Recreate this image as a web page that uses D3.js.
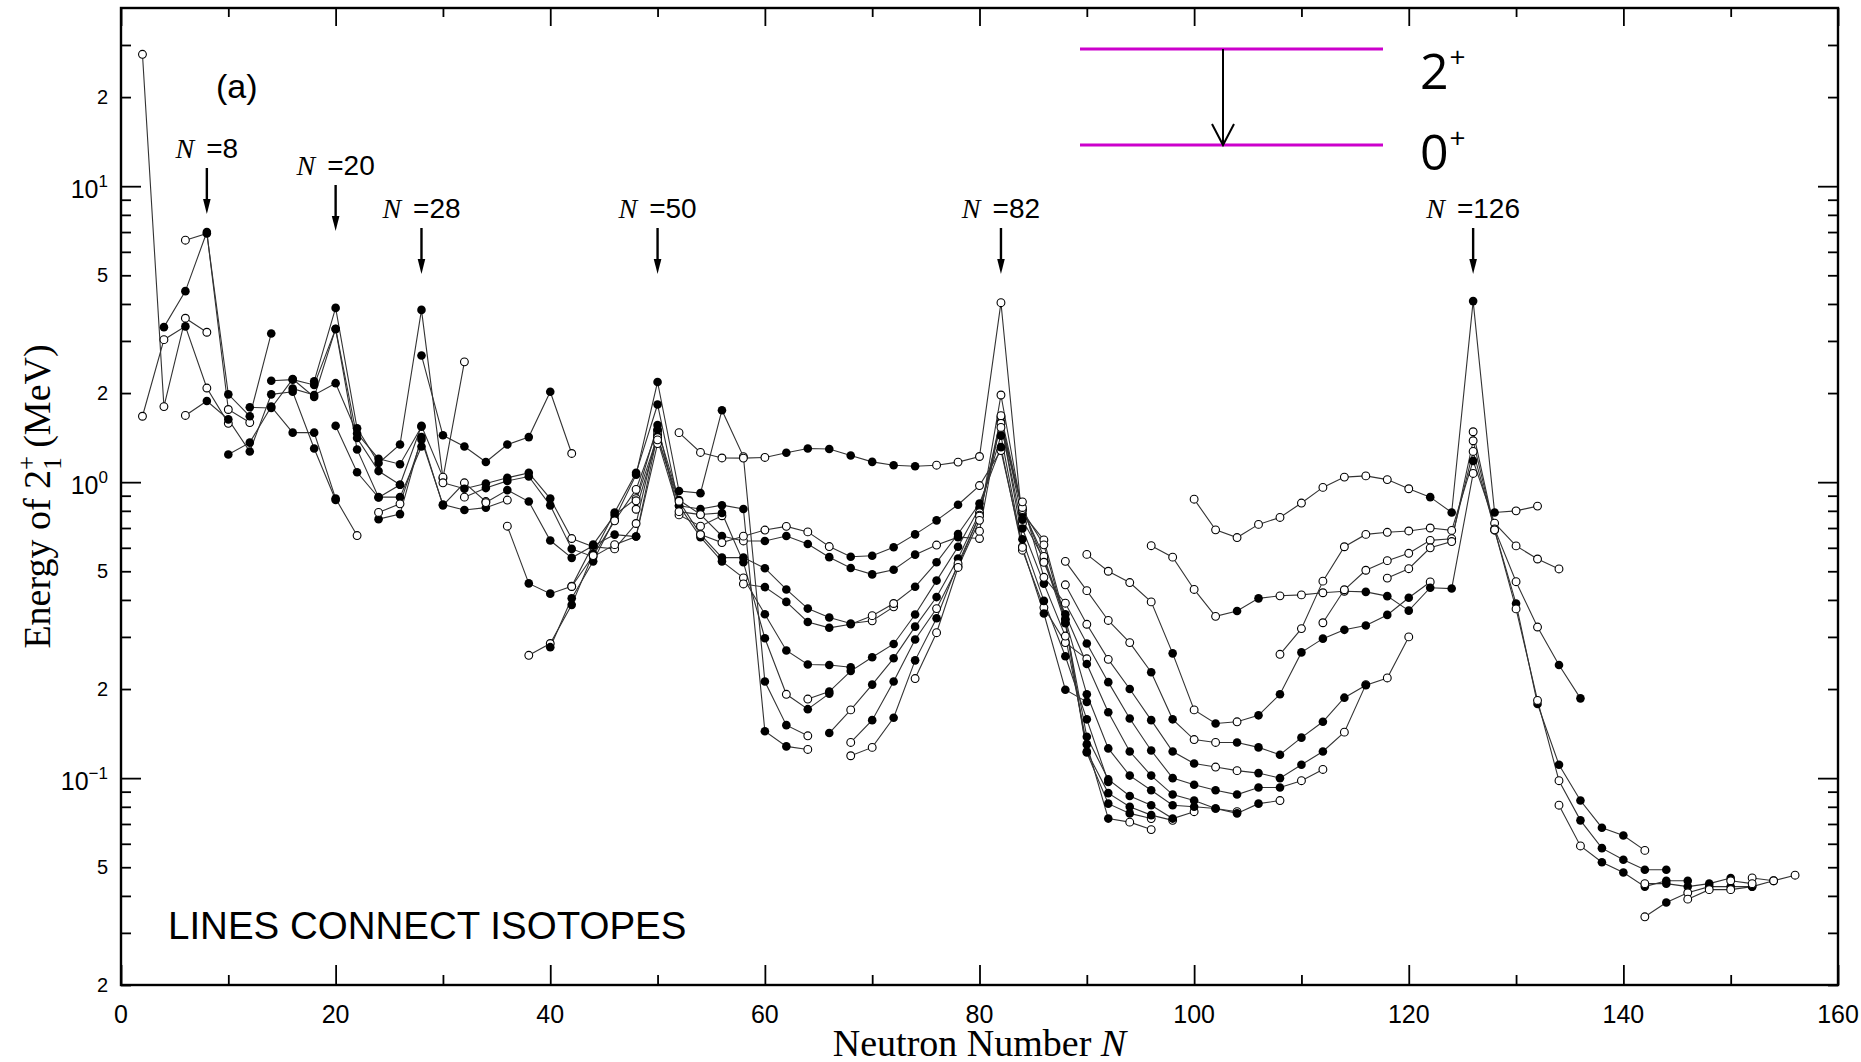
<!DOCTYPE html>
<html>
<head>
<meta charset="utf-8">
<script src="https://cdn.jsdelivr.net/npm/d3@7"></script>
<style>
  body { margin: 0; background: #fff; }
</style>
</head>
<body>
<div id="chart"></div>
<script>
// each point: [neutron number N, E(2+1) in MeV, filled (1) / open (0)]
const He = [[2,27.9,0],[4,1.8,0],[6,3.58,0],[8,3.21,0]];
const Be = [[2,1.67,0],[4,3.03,0],[6,3.36,1],[8,2.08,0],[10,1.58,0]];
const C  = [[4,3.34,1],[6,4.42,1],[8,7.0,1],[10,1.76,0],[12,1.59,0]];
const O  = [[6,6.57,0],[8,6.92,1],[10,1.98,1],[12,1.67,1],[14,3.18,1]];
const Ne = [[6,1.68,0],[8,1.88,1],[10,1.63,1],[12,1.27,1],[14,1.98,1],[16,2.02,1],[18,1.30,1],[20,0.87,1]];
const Mg = [[10,1.24,1],[12,1.36,1],[14,1.80,1],[16,1.47,1],[18,1.47,1],[20,0.88,1],[22,0.66,0]];
const Si = [[12,1.79,1],[14,1.78,1],[16,2.23,1],[18,1.94,1],[20,3.30,1],[22,1.41,1],[24,1.09,1],[26,0.98,1]];
const S  = [[14,2.20,1],[16,2.22,1],[18,2.13,1],[20,3.29,1],[22,1.29,1],[24,0.89,1],[26,0.89,1],[28,1.32,1]];
const Ar = [[16,2.07,1],[18,1.97,1],[20,2.16,1],[22,1.46,1],[24,1.20,1],[26,1.15,1],[28,1.54,1]];
const Ca = [[18,2.19,1],[20,3.88,1],[22,1.52,1],[24,1.16,1],[26,1.34,1],[28,3.82,1],[30,1.03,0],[32,2.55,0]];
const Ti = [[20,1.55,1],[22,1.08,1],[24,0.887,1],[26,0.98,1],[28,1.55,1],[30,1.04,0]];
const Cr = [[24,0.75,1],[26,0.78,1],[28,1.42,1],[30,0.835,1],[32,0.995,0],[34,0.86,0]];
const Fe = [[24,0.79,0],[26,0.845,0],[28,1.39,1],[30,0.84,1],[32,0.805,1],[34,0.82,1],[36,0.87,0]];
const Ni = [[28,2.68,1],[30,1.44,1],[32,1.32,1],[34,1.17,1],[36,1.34,1],[38,1.42,1],[40,2.02,1],[42,1.25,0]];
const Zn = [[30,0.995,0],[32,0.95,1],[34,0.99,1],[36,1.035,1],[38,1.075,1],[40,0.88,1],[42,0.645,0],[44,0.605,0],[46,0.595,0],[48,0.725,0],[50,1.49,0]];
const Ge = [[32,0.89,0],[34,0.955,1],[36,1.01,1],[38,1.045,1],[40,0.835,1],[42,0.595,1],[44,0.56,1],[46,0.615,0],[48,0.655,1],[50,1.35,0]];
const Se = [[34,0.853,0],[36,0.94,1],[38,0.86,1],[40,0.635,1],[42,0.555,1],[44,0.61,1],[46,0.665,1],[48,0.655,1],[50,1.45,0]];
const Kr = [[36,0.71,0],[38,0.455,1],[40,0.42,1],[42,0.445,0],[44,0.615,1],[46,0.775,1],[48,0.88,0],[50,1.56,1],[52,0.775,0],[54,0.71,0],[56,0.77,0]];
const Sr = [[38,0.26,0],[40,0.285,0],[42,0.385,1],[44,0.573,1],[46,0.79,1],[48,1.075,1],[50,1.83,1],[52,0.832,1],[54,0.812,1],[56,0.836,1],[58,0.812,1],[60,0.144,1],[62,0.128,1],[64,0.125,0]];
const Zr = [[40,0.277,1],[42,0.405,1],[44,0.54,1],[46,0.752,1],[48,1.06,1],[50,2.18,1],[52,0.933,1],[54,0.918,1],[56,1.75,1],[58,1.22,0],[60,0.212,1],[62,0.151,1],[64,0.139,0]];
const Mo = [[42,0.444,0],[44,0.565,0],[46,0.74,0],[48,0.945,0],[50,1.51,1],[52,0.87,1],[54,0.778,1],[56,0.787,1],[58,0.536,1],[60,0.297,1],[62,0.192,0],[64,0.171,1],[66,0.193,1]];
const Ru = [[48,0.865,0],[50,1.43,1],[52,0.832,1],[54,0.652,1],[56,0.54,1],[58,0.475,0],[60,0.358,1],[62,0.27,1],[64,0.242,1],[66,0.241,1],[68,0.237,1]];
const Pd = [[48,0.81,0],[50,1.415,0],[52,0.862,0],[54,0.666,0],[56,0.556,1],[58,0.556,1],[60,0.512,1],[62,0.434,1],[64,0.374,1],[66,0.349,1],[68,0.333,1],[70,0.34,0],[72,0.379,0]];
const Cd = [[50,1.39,0],[52,0.795,0],[54,0.777,0],[56,0.658,1],[58,0.633,0],[60,0.633,1],[62,0.658,1],[64,0.618,1],[66,0.558,1],[68,0.513,1],[70,0.488,1],[72,0.506,1],[74,0.569,1],[76,0.613,0],[78,0.652,1],[80,0.645,0]];
const Sn = [[52,1.47,0],[54,1.26,0],[56,1.207,0],[58,1.206,0],[60,1.212,0],[62,1.257,1],[64,1.30,1],[66,1.294,1],[68,1.23,1],[70,1.171,1],[72,1.141,1],[74,1.132,1],[76,1.141,0],[78,1.169,0],[80,1.221,0],[82,4.04,0],[84,0.726,0]];
const Te = [[54,0.665,0],[56,0.625,0],[58,0.657,0],[60,0.689,0],[62,0.709,0],[64,0.679,0],[66,0.606,0],[68,0.56,1],[70,0.564,1],[72,0.603,1],[74,0.666,1],[76,0.743,1],[78,0.839,1],[80,0.974,0],[82,1.279,0],[84,0.606,0]];
const Xe = [[58,0.453,0],[60,0.442,1],[62,0.394,1],[64,0.337,1],[66,0.322,1],[68,0.331,1],[70,0.354,0],[72,0.389,0],[74,0.443,1],[76,0.536,1],[78,0.668,1],[80,0.847,1],[82,1.313,1],[84,0.589,0],[86,0.377,0],[88,0.287,0],[90,0.253,0]];
const Ba = [[64,0.185,0],[66,0.196,1],[68,0.23,1],[70,0.256,1],[72,0.284,1],[74,0.357,1],[76,0.465,1],[78,0.605,1],[80,0.819,1],[82,1.436,1],[84,0.602,0],[86,0.36,1],[88,0.199,1],[90,0.181,1]];
const Ce = [[66,0.142,1],[68,0.17,0],[70,0.207,1],[72,0.254,1],[74,0.325,1],[76,0.409,1],[78,0.552,1],[80,0.789,0],[82,1.596,1],[84,0.641,1],[86,0.397,1],[88,0.258,1],[90,0.158,1],[92,0.097,1]];
const Nd = [[68,0.132,0],[70,0.157,1],[72,0.212,1],[74,0.294,1],[76,0.374,0],[78,0.52,0],[80,0.774,0],[82,1.576,1],[84,0.697,1],[86,0.454,1],[88,0.302,0],[90,0.13,1],[92,0.073,1],[94,0.071,0],[96,0.067,0]];
const Sm = [[68,0.119,0],[70,0.127,0],[72,0.16,1],[74,0.25,1],[76,0.347,1],[78,0.531,0],[80,0.768,0],[82,1.66,1],[84,0.747,1],[86,0.55,1],[88,0.334,1],[90,0.122,1],[92,0.082,1],[94,0.076,1],[96,0.073,0]];
const Gd = [[74,0.217,0],[76,0.31,0],[78,0.515,0],[80,0.743,0],[82,1.97,0],[84,0.784,1],[86,0.638,0],[88,0.344,1],[90,0.123,1],[92,0.089,1],[94,0.080,1],[96,0.075,1],[98,0.072,0]];
const Dy = [[80,0.683,0],[82,1.678,0],[84,0.804,0],[86,0.614,0],[88,0.335,1],[90,0.138,1],[92,0.099,1],[94,0.087,1],[96,0.081,1],[98,0.073,1],[100,0.077,0]];
const Er = [[82,1.579,0],[84,0.808,0],[86,0.561,0],[88,0.344,1],[90,0.192,1],[92,0.126,1],[94,0.102,1],[96,0.091,1],[98,0.081,1],[100,0.080,1],[102,0.079,1],[104,0.077,0]];
const Yb = [[82,1.531,0],[84,0.821,0],[86,0.536,0],[88,0.358,1],[90,0.243,1],[92,0.167,1],[94,0.123,1],[96,0.102,1],[98,0.088,1],[100,0.084,1],[102,0.079,1],[104,0.076,1],[106,0.082,1],[108,0.084,0]];
const Hf = [[84,0.858,0],[86,0.477,0],[88,0.39,0],[90,0.285,1],[92,0.211,1],[94,0.159,1],[96,0.124,1],[98,0.1,1],[100,0.095,1],[102,0.091,1],[104,0.088,1],[106,0.093,1],[108,0.093,1],[110,0.098,0],[112,0.107,0]];
const W  = [[88,0.45,0],[90,0.331,0],[92,0.252,0],[94,0.2,1],[96,0.157,1],[98,0.123,1],[100,0.112,1],[102,0.109,0],[104,0.106,0],[106,0.104,1],[108,0.1,1],[110,0.111,1],[112,0.123,1],[114,0.143,0],[116,0.207,0]];
const Os = [[88,0.54,0],[90,0.43,0],[92,0.341,0],[94,0.287,0],[96,0.228,1],[98,0.158,1],[100,0.135,0],[102,0.132,0],[104,0.132,1],[106,0.127,1],[108,0.12,1],[110,0.137,1],[112,0.155,1],[114,0.187,1],[116,0.206,1],[118,0.218,0],[120,0.30,0]];
const Pt = [[90,0.57,0],[92,0.50,0],[94,0.458,0],[96,0.394,0],[98,0.264,1],[100,0.17,0],[102,0.153,1],[104,0.155,0],[106,0.163,1],[108,0.192,1],[110,0.266,1],[112,0.296,1],[114,0.317,1],[116,0.328,1],[118,0.356,1],[120,0.407,1],[122,0.46,0]];
const Hg = [[96,0.61,0],[98,0.558,0],[100,0.434,0],[102,0.352,0],[104,0.367,1],[106,0.405,1],[108,0.413,0],[110,0.416,0],[112,0.423,0],[114,0.428,0],[116,0.426,1],[118,0.412,1],[120,0.368,1],[122,0.44,1],[124,0.437,1],[126,1.07,0]];
const Pb = [[100,0.876,0],[102,0.69,0],[104,0.65,0],[106,0.72,0],[108,0.76,0],[110,0.85,0],[112,0.96,0],[114,1.04,0],[116,1.05,0],[118,1.02,0],[120,0.95,0],[122,0.89,1],[124,0.79,1],[126,4.09,1],[128,0.79,1],[130,0.80,0],[132,0.83,0]];
const Po = [[108,0.262,0],[110,0.32,0],[112,0.463,0],[114,0.605,0],[116,0.666,0],[118,0.677,0],[120,0.684,0],[122,0.70,0],[124,0.687,0],[126,1.18,1],[128,0.727,0],[130,0.609,0],[132,0.55,0],[134,0.509,0]];
const Rn = [[112,0.335,0],[114,0.433,0],[116,0.504,0],[118,0.543,0],[120,0.575,0],[122,0.636,0],[124,0.644,0],[126,1.27,0],[128,0.695,0],[130,0.461,0],[132,0.324,0],[134,0.241,1],[136,0.186,1]];
const Ra = [[118,0.474,0],[120,0.51,0],[122,0.60,0],[124,0.63,0],[126,1.38,0],[128,0.688,0],[130,0.389,1],[132,0.178,1],[134,0.111,1],[136,0.084,1],[138,0.068,1],[140,0.064,1],[142,0.057,0]];
const Th = [[126,1.48,0],[128,0.69,0],[130,0.373,0],[132,0.183,0],[134,0.098,0],[136,0.072,1],[138,0.058,1],[140,0.053,1],[142,0.049,1],[144,0.049,1]];
const U  = [[134,0.081,0],[136,0.059,0],[138,0.052,1],[140,0.048,1],[142,0.043,1],[144,0.045,1],[146,0.045,1]];
const Pu = [[142,0.044,0],[144,0.044,1],[146,0.043,1],[148,0.044,1],[150,0.046,1]];
const Cm = [[142,0.034,0],[144,0.038,1],[146,0.041,0],[148,0.043,1],[150,0.043,1],[152,0.043,1]];
const Cf = [[146,0.039,0],[148,0.042,0],[150,0.042,0],[152,0.043,1],[154,0.045,0]];
const Fm = [[152,0.046,0],[154,0.045,0],[156,0.047,0]];
const No = [[150,0.045,0],[152,0.044,0]];

const chains = [He, Be, C, O, Ne, Mg, Si, S, Ar, Ca, Ti, Cr, Fe, Ni, Zn, Ge, Se, Kr, Sr, Zr,
  Mo, Ru, Pd, Cd, Sn, Te, Xe, Ba, Ce, Nd, Sm, Gd, Dy, Er, Yb, Hf, W, Os, Pt, Hg, Pb, Po,
  Rn, Ra, Th, U, Pu, Cm, Cf, Fm, No];

// magic numbers marked with arrows
const magic = [8, 20, 28, 50, 82, 126];

// tick values and labels
const xMajor = [0, 20, 40, 60, 80, 100, 120, 140, 160];
const xMinor = [10, 30, 50, 70, 90, 110, 130, 150];
const yMajor = [0.1, 1, 10];
const yMinor = [0.02, 0.03, 0.04, 0.05, 0.06, 0.07, 0.08, 0.09,
  0.2, 0.3, 0.4, 0.5, 0.6, 0.7, 0.8, 0.9, 2, 3, 4, 5, 6, 7, 8, 9, 20, 30];
const yPlainLabels = [[0.02, "2"], [0.05, "5"], [0.2, "2"], [0.5, "5"], [2, "2"], [5, "5"], [20, "2"]];
const yDecadeLabels = [[0.1, "\u22121"], [1, "0"], [10, "1"]];

const width = 1861, height = 1062;
const margin = { left: 121, right: 1838, top: 8, bottom: 985 };

const svg = d3.select("#chart").append("svg")
  .attr("width", width)
  .attr("height", height)
  .attr("viewBox", "0 0 " + width + " " + height);

const x = d3.scaleLinear().domain([0, 160]).range([margin.left, margin.right]);
const y = d3.scaleLog().domain([0.02, 40]).range([margin.bottom, margin.top]);

const sans = "'Liberation Sans', Arial, Helvetica, sans-serif";
const serif = "'Liberation Serif', 'Times New Roman', serif";

// isotope lines
const line = d3.line().x(d => x(d[0])).y(d => y(d[1]));
svg.append("g")
  .selectAll("path")
  .data(chains)
  .join("path")
  .attr("d", line)
  .attr("fill", "none")
  .attr("stroke", "#333")
  .attr("stroke-width", 1.1);

// markers
svg.append("g")
  .selectAll("circle")
  .data(chains.flat())
  .join("circle")
  .attr("cx", d => x(d[0]))
  .attr("cy", d => y(d[1]))
  .attr("r", d => d[2] ? 4.3 : 3.9)
  .attr("fill", d => d[2] ? "#000" : "#fff")
  .attr("stroke", "#000")
  .attr("stroke-width", d => d[2] ? 0 : 1.1);

// ticks on all four sides, pointing inward
function ticks(axis, vals, size, transform) {
  const g = svg.append("g")
    .attr("transform", transform)
    .call(axis.tickValues(vals).tickSize(size).tickFormat(""));
  g.select(".domain").remove();
  g.selectAll("line").attr("stroke", "#000").attr("stroke-width", 1.8);
}
ticks(d3.axisBottom(x), xMajor, -20, "translate(0," + margin.bottom + ")");
ticks(d3.axisBottom(x), xMinor, -10, "translate(0," + margin.bottom + ")");
ticks(d3.axisTop(x), xMajor, -18, "translate(0," + margin.top + ")");
ticks(d3.axisTop(x), xMinor, -9, "translate(0," + margin.top + ")");
ticks(d3.axisLeft(y), yMajor, -20, "translate(" + margin.left + ",0)");
ticks(d3.axisLeft(y), yMinor, -10, "translate(" + margin.left + ",0)");
ticks(d3.axisRight(y), yMajor, -20, "translate(" + margin.right + ",0)");
ticks(d3.axisRight(y), yMinor, -10, "translate(" + margin.right + ",0)");

// frame
svg.append("rect")
  .attr("x", margin.left).attr("y", margin.top)
  .attr("width", margin.right - margin.left)
  .attr("height", margin.bottom - margin.top)
  .attr("fill", "none")
  .attr("stroke", "#000")
  .attr("stroke-width", 2.4);

// x tick labels
svg.append("g")
  .selectAll("text")
  .data(xMajor)
  .join("text")
  .attr("x", d => x(d))
  .attr("y", 1023)
  .attr("text-anchor", "middle")
  .attr("font-family", sans)
  .attr("font-size", 25)
  .text(d => d);

// y tick labels
svg.append("g")
  .selectAll("text")
  .data(yPlainLabels)
  .join("text")
  .attr("x", 108)
  .attr("y", d => y(d[0]) + 7)
  .attr("text-anchor", "end")
  .attr("font-family", sans)
  .attr("font-size", 20)
  .text(d => d[1]);

const dec = svg.append("g")
  .selectAll("text")
  .data(yDecadeLabels)
  .join("text")
  .attr("x", 108)
  .attr("y", d => y(d[0]) + 12)
  .attr("text-anchor", "end")
  .attr("font-family", sans)
  .attr("font-size", 25);
dec.append("tspan").text("10");
dec.append("tspan").attr("dy", -11).attr("font-size", 17).text(d => d[1]);

// axis titles
const xt = svg.append("text")
  .attr("x", (margin.left + margin.right) / 2)
  .attr("y", 1056)
  .attr("text-anchor", "middle")
  .attr("font-family", serif)
  .attr("font-size", 38);
xt.append("tspan").text("Neutron Number ");
xt.append("tspan").attr("font-style", "italic").text("N");

const yt = svg.append("text")
  .attr("transform", "translate(50," + ((margin.top + margin.bottom) / 2) + ") rotate(-90)")
  .attr("text-anchor", "middle")
  .attr("font-family", serif)
  .attr("font-size", 38);
yt.append("tspan").text("Energy of 2");
yt.append("tspan").attr("dy", -15).attr("font-size", 25).text("+");
yt.append("tspan").attr("dx", -14).attr("dy", 26).attr("font-size", 25).text("1");
yt.append("tspan").attr("dy", -11).text(" (MeV)");

// magic number labels with arrows
const labelBase = { 8: 158, 20: 175 };
magic.forEach(n => {
  const cx = x(n);
  const base = labelBase[n] || 218;
  const t = svg.append("text")
    .attr("x", cx)
    .attr("y", base)
    .attr("text-anchor", "middle")
    .attr("font-size", 28);
  t.append("tspan").attr("font-family", serif).attr("font-style", "italic").text("N");
  t.append("tspan").attr("font-family", sans).attr("dx", 12).text("=" + n);
  const y0 = base + 10, y1 = base + 56;
  svg.append("line")
    .attr("x1", cx).attr("x2", cx)
    .attr("y1", y0).attr("y2", y1 - 10)
    .attr("stroke", "#000").attr("stroke-width", 2.4);
  svg.append("path")
    .attr("d", "M" + (cx - 3.8) + "," + (y1 - 15) + "L" + (cx + 3.8) + "," + (y1 - 15) + "L" + cx + "," + y1 + "Z")
    .attr("fill", "#000");
});

// panel label and note
svg.append("text")
  .attr("x", 216).attr("y", 98)
  .attr("font-family", sans).attr("font-size", 34)
  .text("(a)");

svg.append("text")
  .attr("x", 168).attr("y", 939)
  .attr("font-family", sans).attr("font-size", 38.5)
  .text("LINES CONNECT ISOTOPES");

// level scheme inset: [line y, label baseline, spin]
const levels = [[49, 89, "2"], [145, 170, "0"]];
levels.forEach(l => {
  svg.append("line")
    .attr("x1", 1080).attr("x2", 1383)
    .attr("y1", l[0]).attr("y2", l[0])
    .attr("stroke", "#cc00cc").attr("stroke-width", 3);
  const t = svg.append("text")
    .attr("x", 1420).attr("y", l[1])
    .attr("font-family", "'Open Sans', 'Noto Sans', sans-serif")
    .attr("font-size", 50);
  t.append("tspan").text(l[2]);
  t.append("tspan").attr("dy", -22).attr("dx", 1).attr("font-size", 28).text("+");
});
svg.append("line")
  .attr("x1", 1223).attr("x2", 1223)
  .attr("y1", 49).attr("y2", 144)
  .attr("stroke", "#000").attr("stroke-width", 2);
svg.append("path")
  .attr("d", "M1212,124L1223,145L1234,124")
  .attr("fill", "none").attr("stroke", "#000").attr("stroke-width", 2);
</script>
</body>
</html>
